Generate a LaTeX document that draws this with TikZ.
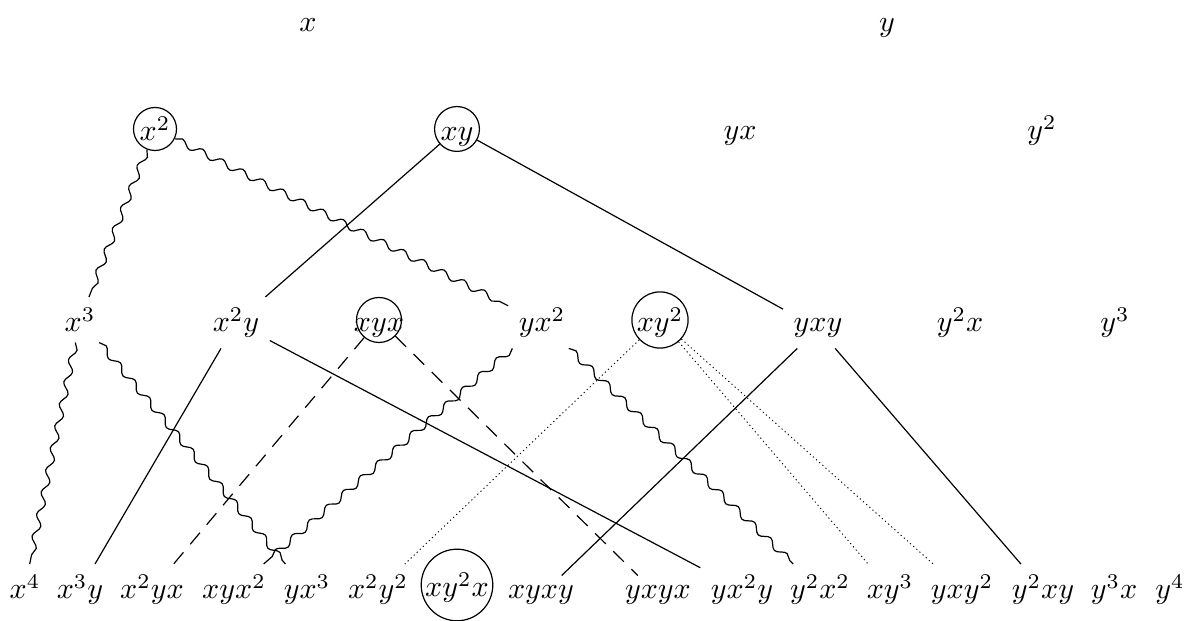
\documentclass[tikz,border=0pt]{standalone}
\usetikzlibrary{decorations.pathmorphing}

\begin{document}
\begin{tikzpicture}[
  x=0.3333pt, y=-0.3333pt,
  word/.style={anchor=base},
  ring/.style={circle, draw, inner sep=0.5pt, text height=8pt, text depth=0pt, anchor=base},
  wavy/.style={decorate, decoration={snake, segment length=7.5pt, amplitude=1.1pt}},
  broken/.style={dash pattern=on 5pt off 3.5pt},
  dotty/.style={dash pattern=on 0.4pt off 1pt, line width=0.3pt},
]

\useasboundingbox (0,0) rectangle (1197,621);

% === Degree 1 ===
\node[word] (x) at (308,32) {$x$};
\node[word] (y) at (887,32) {$y$};

% === Degree 2 ===
\node[ring] (xx) at (155,141) {$x^2$};
\node[ring] (xy) at (457,141) {$xy$};
\node[word] (yx) at (740,140) {$yx$};
\node[word] (yy) at (1042,140) {$y^2$};

% === Degree 3 ===
\node[word] (xxx) at (80,332) {$x^3$};
\node[word] (xxy) at (236,332) {$x^2y$};
\node[ring, minimum size=15pt] (xyx) at (379,332) {\makebox[9pt]{$xyx$}};
\node[word] (yxx) at (542,332) {$yx^2$};
\node[ring] (xyy) at (660,332) {$xy^2$};
\node[word] (yxy) at (818,332) {$yxy$};
\node[word] (yyx) at (960,332) {$y^2x$};
\node[word] (yyy) at (1115,332) {$y^3$};

% === Degree 4 ===
\node[word] (xxxx) at (25,599) {$x^4$};
\node[word] (xxxy) at (80,599) {$x^3y$};
\node[word] (xxyx) at (152,599) {$x^2yx$};
\node[word] (xyxx) at (234,599) {$xyx^2$};
\node[word] (yxxx) at (307,599) {$yx^3$};
\node[word] (xxyy) at (378,599) {$x^2y^2$};
\node[ring] (xyyx) at (457,597) {$xy^2x$};
\node[word] (xyxy) at (541,599) {$xyxy$};
\node[word] (yxyx) at (658,599) {$yxyx$};
\node[word] (yxxy) at (742,599) {$yx^2y$};
\node[word] (yyxx) at (820,599) {$y^2x^2$};
\node[word] (xyyy) at (890,599) {$xy^3$};
\node[word] (yxyy) at (962,599) {$yxy^2$};
\node[word] (yyxy) at (1043,599) {$y^2xy$};
\node[word] (yyyx) at (1114,599) {$y^3x$};
\node[word] (yyyy) at (1170,599) {$y^4$};

% Degree 2 -> degree 3
\draw[wavy] (xx) -- (xxx);
\draw[wavy] (xx) -- (yxx);
\draw (xy) -- (xxy);
\draw (xy) -- (yxy);

% Degree 3 -> degree 4
\draw[wavy] (xxx) -- (xxxx);
\draw[wavy] (xxx) -- (yxxx);
\draw (xxy) -- (xxxy);
\draw (xxy) -- (yxxy);
\draw[broken] (xyx) -- (xxyx);
\draw[broken] (xyx) -- (yxyx);
\draw[wavy] (yxx) -- (xyxx);
\draw[wavy] (yxx) -- (yyxx);
\draw[dotty] (xyy) -- (xxyy);
\draw[dotty] (xyy) -- (xyyy);
\draw[dotty] (xyy) -- (yxyy);
\draw (yxy) -- (xyxy);
\draw (yxy) -- (yyxy);

\end{tikzpicture}
\end{document}
